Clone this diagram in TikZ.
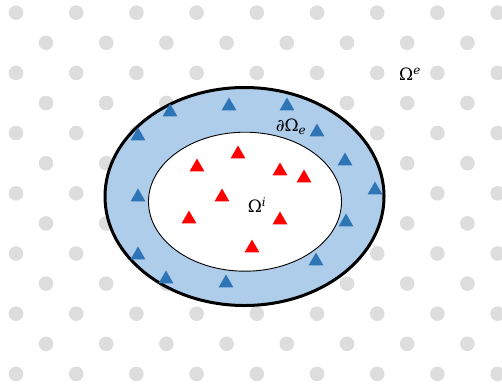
\documentclass[tikz,border=0pt]{standalone}
\usepackage{amsmath,amssymb}
\usepackage{fontspec}
\usepackage{xcolor}
\usepackage{tikz}
\usetikzlibrary{shapes.geometric}

\newfontfamily\symfont{DejaVu Serif}
\definecolor{dotgray}{HTML}{DDDDDD}
\definecolor{ringblue}{HTML}{AECDEA}
\definecolor{markblue}{HTML}{2E75B6}

\begin{document}
\begin{tikzpicture}[x=1pt, y=-1pt,
    griddot/.style={fill=dotgray},
    tri/.style={regular polygon, regular polygon sides=3, inner sep=0pt, minimum size=17pt},
    bluetri/.style={tri, fill=markblue},
    redtri/.style={tri, fill=red},
    lbl/.style={font=\symfont\fontsize{17}{20}\selectfont, inner sep=1pt}]
        \useasboundingbox (0,0) rectangle (502,383);

        % background dots
        \foreach \k in {0,...,12} {
            \pgfmathsetmacro{\off}{mod(\k,2)==0 ? 16 : 46}
            \foreach \j in {0,...,8}
                \fill[griddot] (\off+60.2*\j, 12.7+30.1*\k) circle (7.3pt);
        }

        % domains
        \node[ellipse, draw, line width=3pt, fill=ringblue, inner sep=0pt,
              minimum width=279pt, minimum height=218pt] (outer) at (244.5,196.5) {};
        \node[ellipse, draw, line width=0.9pt, fill=white, inner sep=0pt,
              minimum width=193pt, minimum height=139pt] (inner) at (245,201.7) {};

        % boundary points
        \foreach \x/\y [count=\i] in {170/110, 229/104, 287/104, 317/130, 138/134,
                345/159, 375/188, 138/195, 346/220, 138/253, 316/259, 166/277, 226/281}
            \node[bluetri] (b\i) at (\x,\y+2) {};

        % interior points
        \foreach \x/\y [count=\i] in {238/152, 197/165, 280/169, 304/176,
                222/195, 189/217, 280/218, 252/246}
            \node[redtri] (r\i) at (\x,\y+2) {};

        % labels
        \node[lbl] (omegae) at (410,74) {Ω\textsuperscript{\textit{e}}};
        \node[lbl] (domegae) at (291,127) {∂Ω\textsubscript{\textit{e}}};
        \node[lbl] (omegai) at (257,205) {Ω\textsuperscript{\textit{i}}};
\end{tikzpicture}
\end{document}
